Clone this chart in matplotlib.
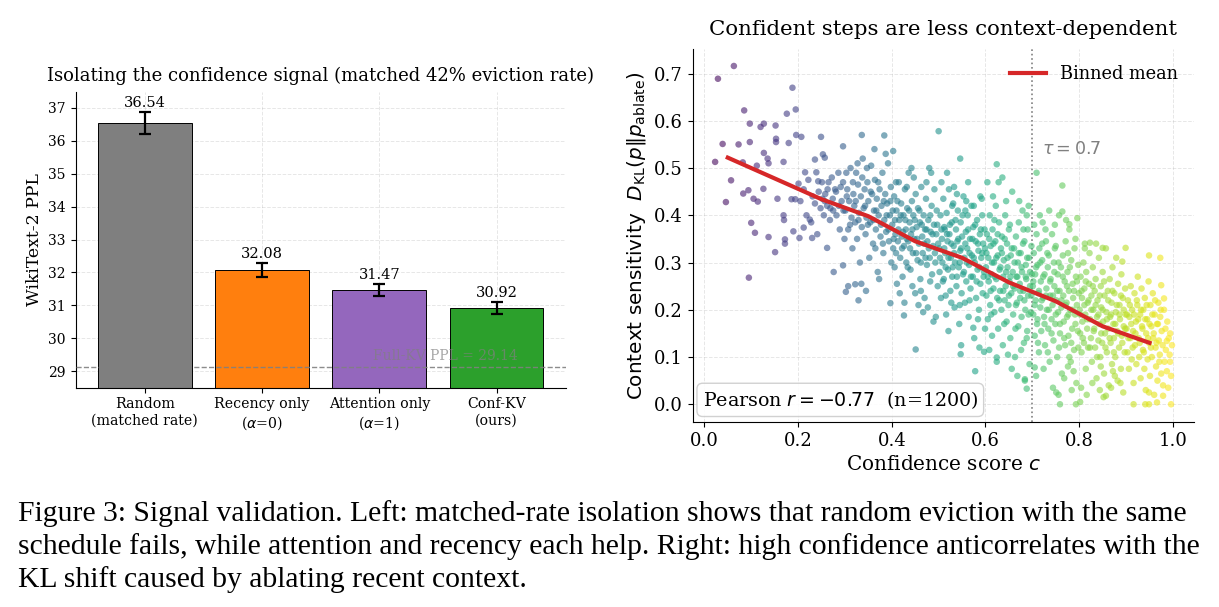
import numpy as np
import matplotlib
matplotlib.use("Agg")
import matplotlib.pyplot as plt

# ---- left panel: matched-rate isolation ----
methods = ["Random\n(matched rate)", "Recency only\n($\\alpha$=0)",
           "Attention only\n($\\alpha$=1)", "Conf-KV\n(ours)"]
ppl = [36.54, 32.08, 31.47, 30.92]
ppl_err = [0.33, 0.22, 0.19, 0.19]
bar_colors = ["#7f7f7f", "#ff7f0e", "#9467bd", "#2ca02c"]
full_kv_ppl = 29.14

# ---- right panel: confidence vs context sensitivity ----
scatter_pts = [
    (0.023, 0.513), (0.029, 0.689), (0.063, 0.716), (0.039, 0.551), (0.057, 0.474),
    (0.046, 0.428), (0.073, 0.550), (0.085, 0.622), (0.097, 0.594), (0.097, 0.555),
    (0.082, 0.512), (0.083, 0.446), (0.094, 0.453), (0.095, 0.268), (0.100, 0.384),
    (0.108, 0.363), (0.105, 0.435), (0.114, 0.429), (0.112, 0.505), (0.120, 0.587),
    (0.127, 0.594), (0.127, 0.532), (0.126, 0.456), (0.137, 0.354), (0.135, 0.520),
    (0.137, 0.510), (0.152, 0.590), (0.153, 0.562), (0.153, 0.555), (0.151, 0.322),
    (0.156, 0.435), (0.169, 0.513), (0.169, 0.400), (0.170, 0.390), (0.172, 0.349),
    (0.172, 0.340), (0.176, 0.615), (0.180, 0.553), (0.188, 0.670), (0.195, 0.624),
    (0.196, 0.570), (0.207, 0.566), (0.186, 0.434), (0.194, 0.434), (0.190, 0.366),
    (0.203, 0.352), (0.212, 0.374), (0.215, 0.491), (0.201, 0.467), (0.225, 0.391),
    (0.230, 0.352), (0.236, 0.518), (0.239, 0.491), (0.243, 0.472), (0.249, 0.566),
    (0.253, 0.529), (0.257, 0.522), (0.262, 0.331), (0.276, 0.280), (0.296, 0.546),
    (0.296, 0.294), (0.302, 0.238), (0.307, 0.250), (0.322, 0.254), (0.329, 0.220),
    (0.336, 0.570), (0.384, 0.569), (0.397, 0.214), (0.403, 0.536), (0.426, 0.188),
    (0.451, 0.116), (0.500, 0.578), (0.546, 0.520), (0.624, 0.508), (0.709, 0.490),
    (0.764, 0.463), (0.764, 0.408), (0.796, 0.394), (0.779, 0.381), (0.578, 0.070),
    (0.597, 0.111), (0.547, 0.106), (0.624, 0.099), (0.574, 0.162), (0.684, 0.053),
    (0.688, 0.033), (0.705, 0.078), (0.759, 0.000), (0.793, 0.000), (0.802, 0.005),
    (0.751, 0.025), (0.857, 0.018), (0.916, 0.000), (0.941, 0.000), (0.949, 0.000),
    (0.966, 0.004), (0.996, 0.000), (0.979, 0.018), (0.949, 0.025), (0.973, 0.310),
    (0.949, 0.315), (0.981, 0.224), (0.975, 0.252), (0.987, 0.134), (0.994, 0.090),
    (0.899, 0.331), (0.892, 0.302), (0.850, 0.331), (0.823, 0.342), (0.812, 0.340),
    # 0.2 - 0.3
    (0.205, 0.43), (0.212, 0.455), (0.218, 0.40), (0.222, 0.475), (0.228, 0.385),
    (0.231, 0.44), (0.236, 0.425), (0.241, 0.36), (0.244, 0.45), (0.248, 0.415),
    (0.252, 0.435), (0.255, 0.40), (0.258, 0.445), (0.262, 0.42), (0.265, 0.47),
    (0.268, 0.39), (0.272, 0.48), (0.275, 0.41), (0.279, 0.455), (0.282, 0.40),
    (0.286, 0.49), (0.289, 0.37), (0.293, 0.43), (0.296, 0.47), (0.299, 0.35),
    (0.251, 0.47), (0.257, 0.43), (0.263, 0.455), (0.269, 0.415), (0.274, 0.435),
    (0.281, 0.45), (0.287, 0.42), (0.291, 0.46), (0.297, 0.41),
    # 0.3 - 0.4
    (0.301, 0.41), (0.303, 0.49), (0.305, 0.455), (0.307, 0.37), (0.309, 0.43),
    (0.312, 0.50), (0.314, 0.395), (0.316, 0.33), (0.318, 0.445), (0.320, 0.42),
    (0.322, 0.385), (0.324, 0.49), (0.326, 0.35), (0.328, 0.465), (0.330, 0.405),
    (0.332, 0.30), (0.334, 0.44), (0.336, 0.375), (0.338, 0.52), (0.340, 0.415),
    (0.342, 0.455), (0.344, 0.36), (0.346, 0.395), (0.348, 0.47), (0.350, 0.43),
    (0.352, 0.31), (0.354, 0.385), (0.356, 0.505), (0.358, 0.445), (0.360, 0.34),
    (0.362, 0.41), (0.364, 0.475), (0.366, 0.37), (0.368, 0.435), (0.370, 0.28),
    (0.372, 0.40), (0.374, 0.455), (0.376, 0.355), (0.378, 0.42), (0.380, 0.49),
    (0.382, 0.32), (0.384, 0.39), (0.386, 0.445), (0.388, 0.365), (0.390, 0.425),
    (0.392, 0.51), (0.394, 0.345), (0.396, 0.40), (0.398, 0.46), (0.399, 0.30),
    (0.335, 0.255), (0.345, 0.24), (0.373, 0.265), (0.363, 0.54), (0.387, 0.53),
    (0.304, 0.44), (0.311, 0.38), (0.317, 0.47), (0.323, 0.43), (0.329, 0.39),
    (0.337, 0.48), (0.343, 0.42), (0.349, 0.38), (0.355, 0.45), (0.361, 0.39),
    (0.367, 0.41), (0.371, 0.47), (0.377, 0.38), (0.383, 0.43), (0.389, 0.40),
    (0.393, 0.37), (0.397, 0.43), (0.327, 0.51), (0.347, 0.50), (0.365, 0.33),
    (0.381, 0.34),
    # 0.4 - 0.5
    (0.401, 0.38), (0.403, 0.33), (0.405, 0.44), (0.406, 0.29), (0.408, 0.36),
    (0.410, 0.41), (0.411, 0.255), (0.413, 0.345), (0.415, 0.47), (0.416, 0.39),
    (0.418, 0.31), (0.420, 0.425), (0.421, 0.355), (0.423, 0.27), (0.425, 0.40),
    (0.426, 0.335), (0.428, 0.455), (0.430, 0.37), (0.431, 0.30), (0.433, 0.415),
    (0.435, 0.345), (0.436, 0.49), (0.438, 0.385), (0.440, 0.285), (0.441, 0.36),
    (0.443, 0.43), (0.445, 0.32), (0.446, 0.40), (0.448, 0.35), (0.450, 0.235),
    (0.451, 0.445), (0.453, 0.375), (0.455, 0.305), (0.456, 0.415), (0.458, 0.34),
    (0.460, 0.385), (0.461, 0.265), (0.463, 0.46), (0.465, 0.355), (0.466, 0.32),
    (0.468, 0.40), (0.470, 0.225), (0.471, 0.37), (0.473, 0.435), (0.475, 0.295),
    (0.476, 0.345), (0.478, 0.39), (0.480, 0.50), (0.481, 0.31), (0.483, 0.365),
    (0.485, 0.42), (0.486, 0.275), (0.488, 0.335), (0.490, 0.38), (0.491, 0.455),
    (0.493, 0.30), (0.495, 0.36), (0.496, 0.41), (0.498, 0.25), (0.499, 0.34),
    (0.457, 0.21), (0.467, 0.195), (0.477, 0.205), (0.489, 0.175), (0.494, 0.185),
    (0.442, 0.50), (0.447, 0.48), (0.484, 0.49), (0.427, 0.215), (0.417, 0.235),
    (0.402, 0.41), (0.404, 0.35), (0.407, 0.39), (0.409, 0.32), (0.412, 0.43),
    (0.414, 0.37), (0.419, 0.40), (0.422, 0.33), (0.424, 0.365), (0.429, 0.39),
    (0.432, 0.35), (0.434, 0.29), (0.437, 0.41), (0.439, 0.33), (0.444, 0.37),
    (0.449, 0.39), (0.452, 0.32), (0.454, 0.35), (0.459, 0.41), (0.462, 0.30),
    (0.464, 0.38), (0.469, 0.34), (0.472, 0.31), (0.474, 0.37), (0.479, 0.33),
    (0.482, 0.40), (0.487, 0.36), (0.492, 0.32), (0.497, 0.38), (0.444, 0.25),
    (0.462, 0.24), (0.482, 0.26), (0.409, 0.47), (0.432, 0.46), (0.474, 0.47),
    # 0.5 - 0.6
    (0.501, 0.33), (0.502, 0.28), (0.504, 0.40), (0.505, 0.225), (0.507, 0.35),
    (0.508, 0.30), (0.510, 0.435), (0.511, 0.265), (0.513, 0.37), (0.514, 0.32),
    (0.516, 0.19), (0.517, 0.405), (0.519, 0.345), (0.520, 0.285), (0.522, 0.455),
    (0.523, 0.36), (0.525, 0.24), (0.526, 0.31), (0.528, 0.385), (0.529, 0.27),
    (0.531, 0.425), (0.532, 0.335), (0.534, 0.205), (0.535, 0.30), (0.537, 0.37),
    (0.538, 0.25), (0.540, 0.345), (0.541, 0.41), (0.543, 0.29), (0.544, 0.17),
    (0.546, 0.325), (0.547, 0.385), (0.549, 0.235), (0.550, 0.355), (0.552, 0.275),
    (0.553, 0.44), (0.555, 0.31), (0.556, 0.215), (0.558, 0.365), (0.559, 0.26),
    (0.561, 0.33), (0.562, 0.40), (0.564, 0.185), (0.565, 0.295), (0.567, 0.35),
    (0.568, 0.245), (0.570, 0.42), (0.571, 0.315), (0.573, 0.27), (0.574, 0.375),
    (0.576, 0.14), (0.577, 0.30), (0.579, 0.345), (0.580, 0.225), (0.582, 0.39),
    (0.583, 0.285), (0.585, 0.325), (0.586, 0.20), (0.588, 0.36), (0.589, 0.255),
    (0.591, 0.31), (0.592, 0.435), (0.594, 0.235), (0.595, 0.34), (0.597, 0.28),
    (0.598, 0.37), (0.599, 0.16), (0.506, 0.47), (0.518, 0.49), (0.533, 0.46),
    (0.563, 0.47), (0.548, 0.125), (0.587, 0.12), (0.521, 0.155), (0.539, 0.445),
    (0.557, 0.41), (0.575, 0.42), (0.593, 0.40), (0.512, 0.375), (0.527, 0.215),
    (0.503, 0.31), (0.506, 0.37), (0.509, 0.26), (0.512, 0.33), (0.515, 0.29),
    (0.518, 0.36), (0.521, 0.31), (0.524, 0.38), (0.527, 0.34), (0.530, 0.29),
    (0.533, 0.32), (0.536, 0.39), (0.539, 0.27), (0.542, 0.35), (0.545, 0.30),
    (0.548, 0.33), (0.551, 0.40), (0.554, 0.28), (0.557, 0.34), (0.560, 0.30),
    (0.563, 0.37), (0.566, 0.32), (0.569, 0.27), (0.572, 0.35), (0.575, 0.31),
    (0.578, 0.38), (0.581, 0.26), (0.584, 0.34), (0.587, 0.29), (0.590, 0.37),
    (0.593, 0.32), (0.596, 0.27), (0.599, 0.33), (0.515, 0.23), (0.545, 0.21),
    (0.566, 0.22), (0.584, 0.18), (0.529, 0.42), (0.559, 0.43), (0.589, 0.44),
    # 0.6 - 0.7
    (0.601, 0.29), (0.602, 0.23), (0.603, 0.36), (0.605, 0.18), (0.606, 0.31),
    (0.607, 0.26), (0.609, 0.40), (0.610, 0.21), (0.611, 0.335), (0.613, 0.275),
    (0.614, 0.145), (0.615, 0.37), (0.617, 0.245), (0.618, 0.30), (0.619, 0.195),
    (0.621, 0.345), (0.622, 0.42), (0.623, 0.265), (0.625, 0.225), (0.626, 0.315),
    (0.627, 0.16), (0.629, 0.385), (0.630, 0.285), (0.631, 0.24), (0.633, 0.33),
    (0.634, 0.20), (0.635, 0.355), (0.637, 0.125), (0.638, 0.27), (0.639, 0.305),
    (0.641, 0.22), (0.642, 0.40), (0.643, 0.25), (0.645, 0.175), (0.646, 0.34),
    (0.647, 0.29), (0.649, 0.21), (0.650, 0.37), (0.651, 0.26), (0.653, 0.14),
    (0.654, 0.315), (0.655, 0.235), (0.657, 0.45), (0.658, 0.28), (0.659, 0.19),
    (0.661, 0.33), (0.662, 0.245), (0.663, 0.10), (0.665, 0.355), (0.666, 0.27),
    (0.667, 0.215), (0.669, 0.30), (0.670, 0.165), (0.671, 0.385), (0.673, 0.255),
    (0.674, 0.225), (0.675, 0.32), (0.677, 0.185), (0.678, 0.28), (0.679, 0.41),
    (0.681, 0.24), (0.682, 0.13), (0.683, 0.345), (0.685, 0.20), (0.686, 0.295),
    (0.687, 0.265), (0.689, 0.155), (0.690, 0.37), (0.691, 0.23), (0.693, 0.31),
    (0.694, 0.085), (0.695, 0.25), (0.697, 0.195), (0.698, 0.335), (0.699, 0.275),
    (0.604, 0.47), (0.616, 0.44), (0.628, 0.47), (0.644, 0.43), (0.656, 0.075),
    (0.668, 0.06), (0.676, 0.115), (0.688, 0.40), (0.692, 0.42), (0.608, 0.115),
    (0.624, 0.09), (0.636, 0.48), (0.648, 0.105), (0.672, 0.43), (0.684, 0.05),
    (0.602, 0.32), (0.605, 0.27), (0.608, 0.35), (0.611, 0.24), (0.614, 0.30),
    (0.617, 0.34), (0.620, 0.27), (0.623, 0.31), (0.626, 0.36), (0.629, 0.22),
    (0.632, 0.29), (0.635, 0.32), (0.638, 0.24), (0.641, 0.35), (0.644, 0.28),
    (0.647, 0.31), (0.650, 0.23), (0.653, 0.27), (0.656, 0.33), (0.659, 0.25),
    (0.662, 0.30), (0.665, 0.21), (0.668, 0.27), (0.671, 0.32), (0.674, 0.24),
    (0.677, 0.29), (0.680, 0.34), (0.683, 0.22), (0.686, 0.27), (0.689, 0.31),
    (0.692, 0.19), (0.695, 0.28), (0.698, 0.23), (0.612, 0.19), (0.640, 0.17),
    (0.664, 0.16), (0.688, 0.14), (0.619, 0.39), (0.652, 0.38), (0.681, 0.37),
    # 0.7 - 0.8
    (0.701, 0.25), (0.702, 0.19), (0.703, 0.32), (0.705, 0.145), (0.706, 0.275),
    (0.707, 0.22), (0.709, 0.36), (0.710, 0.17), (0.711, 0.295), (0.713, 0.235),
    (0.714, 0.11), (0.715, 0.33), (0.717, 0.205), (0.718, 0.26), (0.719, 0.155),
    (0.721, 0.305), (0.722, 0.385), (0.723, 0.225), (0.725, 0.185), (0.726, 0.275),
    (0.727, 0.125), (0.729, 0.345), (0.730, 0.245), (0.731, 0.20), (0.733, 0.29),
    (0.734, 0.16), (0.735, 0.315), (0.737, 0.09), (0.738, 0.23), (0.739, 0.265),
    (0.741, 0.18), (0.742, 0.36), (0.743, 0.21), (0.745, 0.135), (0.746, 0.30),
    (0.747, 0.25), (0.749, 0.17), (0.750, 0.335), (0.751, 0.22), (0.753, 0.10),
    (0.754, 0.275), (0.755, 0.195), (0.757, 0.40), (0.758, 0.24), (0.759, 0.15),
    (0.761, 0.29), (0.762, 0.205), (0.763, 0.065), (0.765, 0.315), (0.766, 0.23),
    (0.767, 0.175), (0.769, 0.26), (0.770, 0.125), (0.771, 0.345), (0.773, 0.215),
    (0.774, 0.185), (0.775, 0.28), (0.777, 0.145), (0.778, 0.24), (0.779, 0.37),
    (0.781, 0.20), (0.782, 0.09), (0.783, 0.305), (0.785, 0.16), (0.786, 0.255),
    (0.787, 0.225), (0.789, 0.115), (0.790, 0.33), (0.791, 0.19), (0.793, 0.27),
    (0.794, 0.045), (0.795, 0.21), (0.797, 0.155), (0.798, 0.295), (0.799, 0.235),
    (0.704, 0.38), (0.716, 0.40), (0.728, 0.37), (0.744, 0.035), (0.756, 0.02),
    (0.768, 0.055), (0.776, 0.08), (0.788, 0.07), (0.792, 0.35), (0.708, 0.06),
    (0.724, 0.075), (0.736, 0.41), (0.748, 0.38), (0.772, 0.39), (0.784, 0.03),
    (0.702, 0.26), (0.705, 0.21), (0.708, 0.29), (0.711, 0.18), (0.714, 0.24),
    (0.717, 0.30), (0.720, 0.22), (0.723, 0.27), (0.726, 0.17), (0.729, 0.23),
    (0.732, 0.32), (0.735, 0.20), (0.738, 0.26), (0.741, 0.15), (0.744, 0.23),
    (0.747, 0.28), (0.750, 0.19), (0.753, 0.24), (0.756, 0.30), (0.759, 0.17),
    (0.762, 0.22), (0.765, 0.27), (0.768, 0.14), (0.771, 0.21), (0.774, 0.25),
    (0.777, 0.19), (0.780, 0.29), (0.783, 0.13), (0.786, 0.20), (0.789, 0.24),
    (0.792, 0.17), (0.795, 0.26), (0.798, 0.12), (0.712, 0.13), (0.733, 0.11),
    (0.757, 0.12), (0.779, 0.10), (0.721, 0.34), (0.748, 0.33), (0.776, 0.32),
    # 0.8 - 0.9
    (0.801, 0.20), (0.802, 0.15), (0.803, 0.27), (0.805, 0.11), (0.806, 0.225),
    (0.807, 0.175), (0.809, 0.30), (0.810, 0.13), (0.811, 0.245), (0.813, 0.19),
    (0.814, 0.075), (0.815, 0.28), (0.817, 0.16), (0.818, 0.215), (0.819, 0.12),
    (0.821, 0.255), (0.822, 0.32), (0.823, 0.18), (0.825, 0.14), (0.826, 0.23),
    (0.827, 0.09), (0.829, 0.29), (0.830, 0.20), (0.831, 0.155), (0.833, 0.24),
    (0.834, 0.12), (0.835, 0.265), (0.837, 0.055), (0.838, 0.185), (0.839, 0.22),
    (0.841, 0.135), (0.842, 0.31), (0.843, 0.17), (0.845, 0.10), (0.846, 0.25),
    (0.847, 0.205), (0.849, 0.13), (0.850, 0.28), (0.851, 0.175), (0.853, 0.065),
    (0.854, 0.23), (0.855, 0.15), (0.857, 0.33), (0.858, 0.195), (0.859, 0.11),
    (0.861, 0.24), (0.862, 0.16), (0.863, 0.04), (0.865, 0.265), (0.866, 0.185),
    (0.867, 0.13), (0.869, 0.215), (0.870, 0.085), (0.871, 0.29), (0.873, 0.17),
    (0.874, 0.14), (0.875, 0.235), (0.877, 0.10), (0.878, 0.195), (0.879, 0.31),
    (0.881, 0.155), (0.882, 0.05), (0.883, 0.255), (0.885, 0.12), (0.886, 0.21),
    (0.887, 0.18), (0.889, 0.075), (0.890, 0.275), (0.891, 0.145), (0.893, 0.225),
    (0.894, 0.025), (0.895, 0.165), (0.897, 0.11), (0.898, 0.245), (0.899, 0.19),
    (0.804, 0.035), (0.816, 0.02), (0.828, 0.045), (0.844, 0.03), (0.852, 0.015),
    (0.868, 0.035), (0.876, 0.06), (0.888, 0.045), (0.812, 0.33), (0.836, 0.34),
    (0.802, 0.19), (0.805, 0.24), (0.808, 0.14), (0.811, 0.21), (0.814, 0.26),
    (0.817, 0.18), (0.820, 0.22), (0.823, 0.12), (0.826, 0.20), (0.829, 0.25),
    (0.832, 0.16), (0.835, 0.21), (0.838, 0.10), (0.841, 0.19), (0.844, 0.23),
    (0.847, 0.15), (0.850, 0.20), (0.853, 0.26), (0.856, 0.12), (0.859, 0.18),
    (0.862, 0.22), (0.865, 0.14), (0.868, 0.19), (0.871, 0.24), (0.874, 0.11),
    (0.877, 0.17), (0.880, 0.21), (0.883, 0.15), (0.886, 0.19), (0.889, 0.23),
    (0.892, 0.13), (0.895, 0.20), (0.898, 0.16), (0.846, 0.08), (0.872, 0.07),
    # 0.9 - 1.0
    (0.901, 0.16), (0.903, 0.11), (0.904, 0.22), (0.906, 0.075), (0.907, 0.185),
    (0.909, 0.14), (0.910, 0.25), (0.912, 0.095), (0.913, 0.20), (0.915, 0.155),
    (0.916, 0.045), (0.918, 0.235), (0.919, 0.125), (0.921, 0.175), (0.922, 0.085),
    (0.924, 0.21), (0.925, 0.27), (0.927, 0.14), (0.928, 0.10), (0.930, 0.19),
    (0.931, 0.055), (0.933, 0.245), (0.934, 0.165), (0.936, 0.115), (0.937, 0.20),
    (0.939, 0.075), (0.940, 0.225), (0.942, 0.03), (0.943, 0.15), (0.945, 0.18),
    (0.946, 0.095), (0.948, 0.26), (0.949, 0.13), (0.951, 0.06), (0.952, 0.21),
    (0.954, 0.165), (0.955, 0.10), (0.957, 0.235), (0.958, 0.14), (0.960, 0.02),
    (0.961, 0.19), (0.963, 0.12), (0.964, 0.08), (0.966, 0.17), (0.967, 0.05),
    (0.969, 0.215), (0.970, 0.135), (0.972, 0.105), (0.973, 0.185), (0.975, 0.065),
    (0.976, 0.155), (0.978, 0.125), (0.979, 0.04), (0.981, 0.20), (0.982, 0.09),
    (0.984, 0.16), (0.985, 0.115), (0.987, 0.07), (0.988, 0.175), (0.990, 0.035),
    (0.991, 0.14), (0.993, 0.105), (0.994, 0.15), (0.996, 0.06), (0.998, 0.125),
    (0.902, 0.19), (0.905, 0.14), (0.908, 0.21), (0.911, 0.17), (0.914, 0.12),
    (0.917, 0.19), (0.920, 0.15), (0.923, 0.22), (0.926, 0.18), (0.929, 0.13),
    (0.932, 0.20), (0.935, 0.16), (0.938, 0.11), (0.941, 0.18), (0.944, 0.21),
    (0.947, 0.14), (0.950, 0.17), (0.953, 0.12), (0.956, 0.19), (0.959, 0.15),
    (0.962, 0.22), (0.965, 0.13), (0.968, 0.17), (0.971, 0.09), (0.974, 0.20),
]
bin_centers = [0.05, 0.15, 0.25, 0.35, 0.45, 0.55, 0.65, 0.75, 0.85, 0.95]
bin_means = [0.522, 0.478, 0.434, 0.398, 0.345, 0.310, 0.258, 0.218, 0.165, 0.130]
tau = 0.7
pearson_r = -0.77
n_steps = 1200

caption_lines = [
    "Figure 3: Signal validation. Left: matched-rate isolation shows that random eviction with the same",
    "schedule fails, while attention and recency each help. Right: high confidence anticorrelates with the",
    "KL shift caused by ablating recent context.",
]

plt.rcParams["font.family"] = "DejaVu Serif"
plt.rcParams["mathtext.fontset"] = "dejavusans"

fig = plt.figure(figsize=(12.19, 6.07), dpi=100)
ax1 = fig.add_axes([0.0621, 0.3613, 0.4020, 0.4871])
ax2 = fig.add_axes([0.5682, 0.3048, 0.4113, 0.6145])

# left
x = np.arange(len(methods))
ax1.bar(x, ppl, width=0.8, color=bar_colors, edgecolor="black", linewidth=0.7,
        yerr=ppl_err, capsize=4, error_kw=dict(elinewidth=1.6, capthick=1.6, ecolor="black"),
        zorder=2)
for xi, v, e in zip(x, ppl, ppl_err):
    ax1.text(xi, v + e + 0.06, f"{v:.2f}", ha="center", va="bottom", fontsize=10.5)
ax1.axhline(full_kv_ppl, color="gray", ls="--", lw=1, alpha=0.9, zorder=3)
ax1.text(2.56, full_kv_ppl + 0.1, f"Full-KV PPL = {full_kv_ppl}", ha="center",
         va="bottom", fontsize=10, color="gray", alpha=0.7, zorder=4)
ax1.set_xticks(x)
ax1.set_xticklabels(methods, fontsize=10.2)
ax1.set_ylim(28.5, 37.48)
ax1.set_yticks(range(29, 38))
ax1.tick_params(axis="y", labelsize=10)
ax1.set_ylabel("WikiText-2 PPL", fontsize=12.4)
ax1.set_title("Isolating the confidence signal (matched 42% eviction rate)", fontsize=13, pad=8)
ax1.grid(True, ls="--", alpha=0.3, lw=0.7)
ax1.set_axisbelow(True)
for s in ["top", "right"]:
    ax1.spines[s].set_visible(False)

# right
pts = np.array(scatter_pts)
ax2.scatter(pts[:, 0], pts[:, 1], c=pts[:, 0], cmap="viridis", vmin=0, vmax=1,
            s=22, alpha=0.6, edgecolors="none", zorder=2)
ax2.plot(bin_centers, bin_means, color="#d62728", lw=3, label="Binned mean", zorder=3)
ax2.axvline(tau, color="gray", ls=":", lw=1.2, zorder=1)
ax2.text(tau + 0.02, 0.53, f"$\\tau = {tau}$", color="gray", fontsize=12.6)
ax2.text(0.02, 0.03, f"Pearson $r = {pearson_r:.2f}$  (n={n_steps})".replace("-", "\u2212"),
         transform=ax2.transAxes, fontsize=13.7, va="bottom", ha="left",
         bbox=dict(boxstyle="round,pad=0.3", fc="white", ec="#cccccc", alpha=0.9), zorder=5)
ax2.set_xlim(-0.025, 1.045)
ax2.set_ylim(-0.0375, 0.752)
ax2.tick_params(labelsize=13)
ax2.set_xlabel("Confidence score $c$", fontsize=14.4)
ax2.set_ylabel("Context sensitivity  $D_{\\mathrm{KL}}(p\\|p_{\\mathrm{ablate}})$",
               fontsize=14.4, family="DejaVu Sans")
ax2.set_title("Confident steps are less context-dependent", fontsize=15.3, pad=10)
ax2.legend(loc="upper right", frameon=False, fontsize=12.8)
ax2.grid(True, ls="--", alpha=0.3, lw=0.7)
ax2.set_axisbelow(True)
for s in ["top", "right"]:
    ax2.spines[s].set_visible(False)

for line, yb in zip(caption_lines, [0.1417, 0.0873, 0.0329]):
    fig.text(0.015, yb, line, ha="left", va="baseline", fontsize=21.3,
             family="Liberation Serif")

fig.savefig("out.png", dpi=100)
